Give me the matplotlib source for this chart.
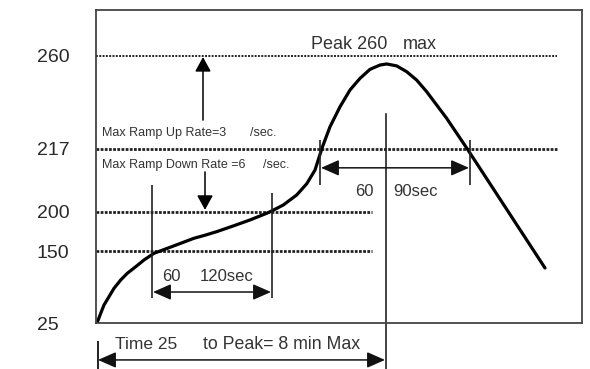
import numpy as np
import matplotlib
matplotlib.use("Agg")
import matplotlib.pyplot as plt

plt.rcParams["font.family"] = ["Liberation Sans", "DejaVu Sans"]

# Reflow profile curve (time units along x, temperature along y)
t = [1, 4.7, 8, 13, 18, 24.7, 31.3, 39.7, 48, 58, 71.3, 84.7, 98, 108,
     120.7, 137.3, 154, 170.7, 175.7, 187.3, 200.7, 210.7, 219, 226,
     234, 244, 254, 264, 274, 284, 290.7, 300.7, 310.7, 320.7, 330.7,
     340.7, 350.7, 360.7, 371, 449]
temp = [25, 41.8, 56.3, 70.7, 85.2, 99.7, 111.3, 122.7, 134.4, 146.0, 153.4,
        159.8, 166.2, 169.7, 174.6, 181.9, 189.5, 198.0, 200.2, 201.8, 204.5,
        207.5, 211.2, 217.2, 227.1, 236.4, 244.2, 249.6, 253.8, 255.8, 256.3,
        255.4, 252.7, 248.8, 243.4, 237.2, 231.0, 224.1, 217.0, 120.5]

# Temperature levels marked on the axis
levels = [25, 150, 200, 217, 260]
level_labels = ["25", "150", "200", "217", "260"]

# Schematic (non-linear) temperature axis
scale_temps = [25, 150, 200, 217, 260, 281.3]
scale_pos = [0, 72, 111.3, 174.5, 267, 313]


def fwd(v):
    return np.interp(v, scale_temps, scale_pos)


def inv(p):
    return np.interp(p, scale_pos, scale_temps)


TXT = "#333333"
LINE = "#222222"

fig = plt.figure(figsize=(5.90, 3.69), dpi=100)
ax = fig.add_axes([96 / 590, 46 / 369, 486 / 590, 313 / 369])
ax.set_yscale("function", functions=(fwd, inv))
ax.set_xlim(0, 486)
ax.set_ylim(25, 281.3)

for s in ax.spines.values():
    s.set_color("#444444")
    s.set_linewidth(1.3)

ax.set_xticks([])
ax.set_yticks(levels)
ax.set_yticklabels(level_labels)
ax.tick_params(axis="y", length=0, pad=42.5, labelsize=14, labelcolor="#2a2a2a")
for lab in ax.get_yticklabels():
    lab.set_horizontalalignment("left")

# Dotted reference levels
ax.plot([0, 461], [260, 260], color=LINE, lw=1.4, ls=(0, (1.0, 0.7)))
ax.plot([0, 461], [217, 217], color=LINE, lw=2.0, ls=(0, (1.0, 0.5)))
ax.plot([0, 276], [200, 200], color=LINE, lw=2.0, ls=(0, (1.0, 0.5)))
ax.plot([0, 276], [150, 150], color=LINE, lw=2.0, ls=(0, (1.0, 0.5)))

# Profile curve
ax.plot(t, temp, color="black", lw=2.3, solid_capstyle="round", solid_joinstyle="round")

arrow_one = dict(arrowstyle="-|>,head_length=0.4,head_width=0.22", color="black",
                 lw=1.1, shrinkA=0, shrinkB=0, mutation_scale=22)
arrow_two = dict(arrowstyle="<|-|>,head_length=0.5,head_width=0.22", color="#111111",
                 lw=1.1, shrinkA=0, shrinkB=0, mutation_scale=22)

# Ramp rate arrows
ax.annotate("", xy=(107, 259.5), xytext=(107, 230.2), arrowprops=arrow_one)
ax.annotate("", xy=(109, 200.5), xytext=(109, 210.7), arrowprops=arrow_one)

# Soak window 60-120 sec
ax.vlines([56], 68.4, 207.2, color=LINE, lw=1.2)
ax.vlines([176], 68.4, 205.0, color=LINE, lw=1.2)
ax.annotate("", xy=(57, 78.8), xytext=(175, 78.8), arrowprops=arrow_two)
ax.text(66, 104.9, "60", fontsize=12, color=TXT, ha="left", va="center")
ax.text(104, 104.9, "120sec", fontsize=12, color=TXT, ha="left", va="center")

# Time above 217 window 60-90 sec
ax.vlines([224, 374], 207.2, 221.0, color=LINE, lw=1.2)
ax.annotate("", xy=(225, 211.8), xytext=(373, 211.8), arrowprops=arrow_two)
ax.text(259, 205.3, "60", fontsize=12, color=TXT, ha="left", va="center")
ax.text(297, 205.3, "90sec", fontsize=12, color=TXT, ha="left", va="center")

# Peak marker line, running below the axes
xa = ax.get_xaxis_transform()
ax.plot([290, 290], [-0.147, 0.668], transform=xa, color=LINE, lw=1.2, clip_on=False)

# Time to peak arrow below the axes
ax.plot([2, 2], [-0.061, -0.147], transform=xa, color=LINE, lw=1.4, clip_on=False)
ax.annotate("", xy=(2, -0.118), xytext=(289, -0.118), xycoords=xa, textcoords=xa,
            arrowprops=arrow_two, annotation_clip=False)
ax.text(19, -0.070, "Time 25", transform=xa, fontsize=12.5, color=TXT,
        ha="left", va="center")
ax.text(107, -0.070, "to Peak= 8 min Max", transform=xa, fontsize=12.8, color=TXT,
        ha="left", va="center")

# Labels
ax.text(215, 265.1, "Peak 260", fontsize=13, color=TXT, ha="left", va="center")
ax.text(307, 265.1, "max", fontsize=13, color=TXT, ha="left", va="center")
ax.text(6, 224.2, "Max Ramp Up Rate=3", fontsize=9, color=TXT, ha="left", va="center")
ax.text(154, 224.2, "/sec.", fontsize=9, color=TXT, ha="left", va="center")
ax.text(6, 212.6, "Max Ramp Down Rate =6", fontsize=9, color=TXT, ha="left", va="center")
ax.text(167, 212.6, "/sec.", fontsize=9, color=TXT, ha="left", va="center")

fig.savefig("out.png", dpi=100)
